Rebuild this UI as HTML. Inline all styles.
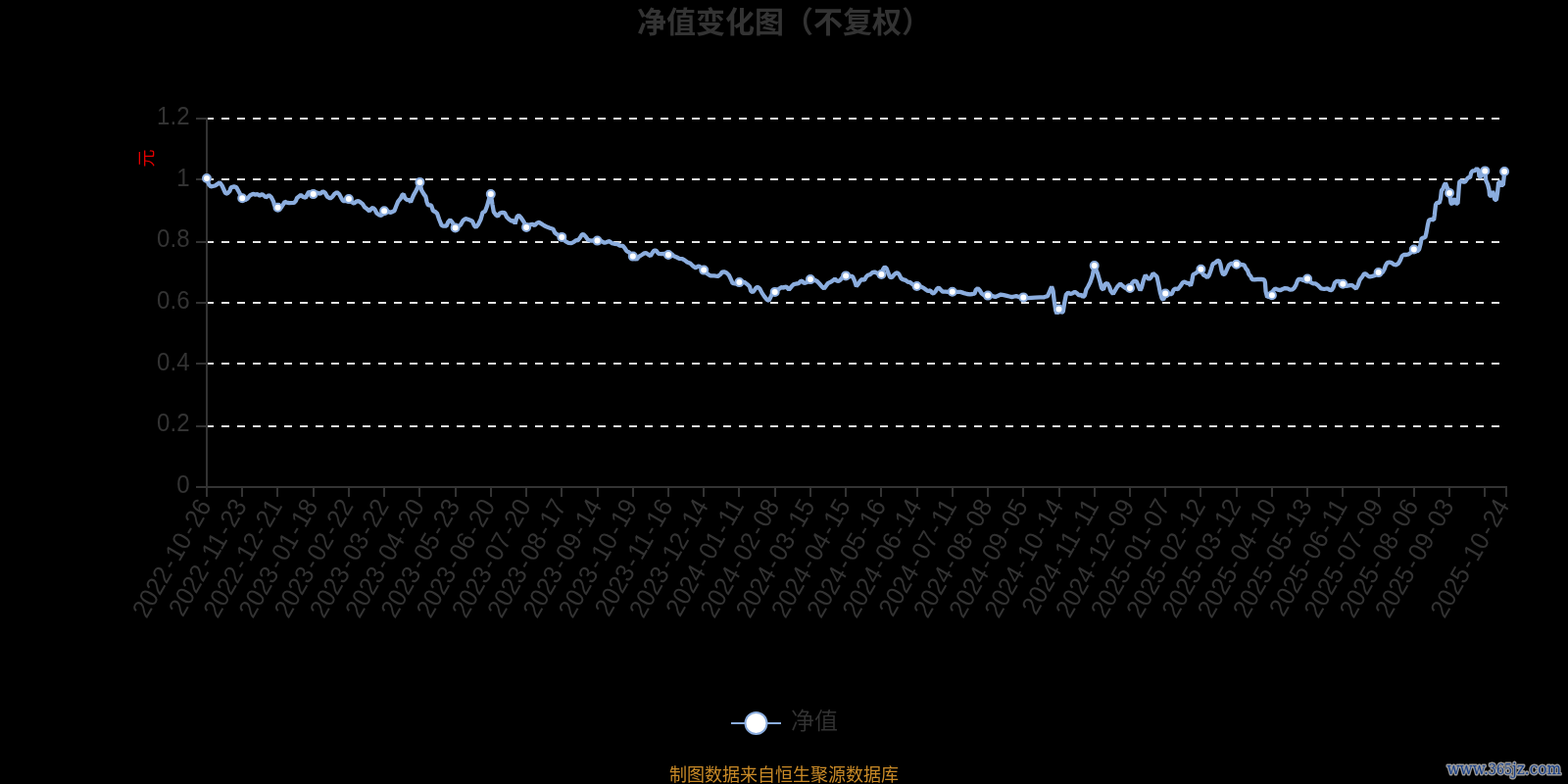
<!DOCTYPE html>
<html lang="zh-CN"><head><meta charset="utf-8"><title>净值变化图（不复权）</title>
<style>
html,body{margin:0;padding:0;background:#000;}
body{width:1600px;height:800px;overflow:hidden;position:relative;font-family:"Liberation Sans","Noto Sans CJK SC",sans-serif;}
svg{position:absolute;left:0;top:0;display:block;}
text{font-family:"Liberation Sans","Noto Sans CJK SC",sans-serif;}
.title{font-size:30px;font-weight:bold;fill:#333;}
.ax{font-size:24px;fill:#333;}
.leg{font-size:24px;fill:#333;font-weight:350;}
.src{font-size:18px;fill:#c98a27;}
.unit{font-size:18px;fill:#e60000;}
.wm{font-family:"DejaVu Serif","Liberation Serif",serif;font-weight:normal;font-size:17.5px;fill:#173f8a;stroke:#9a9a9a;stroke-width:3px;paint-order:stroke fill;stroke-linejoin:round;}
</style></head><body>
<svg width="1600" height="800" viewBox="0 0 1600 800">
<rect x="0" y="0" width="1600" height="800" fill="#000"/>
<text class="title" x="800" y="33" text-anchor="middle">净值变化图（不复权）</text>
<g stroke="#e4e4e4" stroke-width="2" stroke-dasharray="8 8" fill="none">
<path d="M210 121H1537"/>
<path d="M210 183H1537"/>
<path d="M210 247H1537"/>
<path d="M210 309H1537"/>
<path d="M210 371H1537"/>
<path d="M210 435H1537"/>
</g>
<g stroke="#333" stroke-width="2" fill="none">
<path d="M211 120V498"/>
<path d="M210 497H1538"/>
<path d="M200 121H211M200 183H211M200 247H211M200 309H211M200 371H211M200 435H211M200 497H211M211 497V507M247 497V507M283 497V507M320 497V507M356 497V507M392 497V507M428 497V507M465 497V507M501 497V507M537 497V507M573 497V507M610 497V507M646 497V507M682 497V507M718 497V507M754 497V507M791 497V507M827 497V507M863 497V507M899 497V507M936 497V507M972 497V507M1008 497V507M1044 497V507M1081 497V507M1117 497V507M1153 497V507M1189 497V507M1225 497V507M1262 497V507M1298 497V507M1334 497V507M1370 497V507M1407 497V507M1443 497V507M1479 497V507M1515 497V507M1537 497V507"/>
</g>
<g class="ax" text-anchor="end" style="font-size:26.3px">
<text transform="translate(193.5 126.8) scale(0.914 1)">1.2</text>
<text transform="translate(193.5 189.5) scale(0.914 1)">1</text>
<text transform="translate(193.5 252.1) scale(0.914 1)">0.8</text>
<text transform="translate(193.5 314.8) scale(0.914 1)">0.6</text>
<text transform="translate(193.5 377.5) scale(0.914 1)">0.4</text>
<text transform="translate(193.5 440.1) scale(0.914 1)">0.2</text>
<text transform="translate(193.5 502.8) scale(0.914 1)">0</text>
</g>
<text class="unit" transform="translate(156 161.5) rotate(-90)" text-anchor="middle">元</text>
<g class="ax" text-anchor="end" style="font-size:26.3px">
<text transform="translate(209.0 511.7) rotate(-60) scale(0.93 1)" y="8.5">2022<tspan dx="2.4">-</tspan><tspan dx="2.4">10</tspan><tspan dx="2.4">-</tspan><tspan dx="2.4">26</tspan></text>
<text transform="translate(245.2 511.7) rotate(-60) scale(0.93 1)" y="8.5">2022<tspan dx="2.4">-</tspan><tspan dx="2.4">11</tspan><tspan dx="2.4">-</tspan><tspan dx="2.4">23</tspan></text>
<text transform="translate(281.5 511.7) rotate(-60) scale(0.93 1)" y="8.5">2022<tspan dx="2.4">-</tspan><tspan dx="2.4">12</tspan><tspan dx="2.4">-</tspan><tspan dx="2.4">21</tspan></text>
<text transform="translate(317.7 511.7) rotate(-60) scale(0.93 1)" y="8.5">2023<tspan dx="2.4">-</tspan><tspan dx="2.4">01</tspan><tspan dx="2.4">-</tspan><tspan dx="2.4">18</tspan></text>
<text transform="translate(353.9 511.7) rotate(-60) scale(0.93 1)" y="8.5">2023<tspan dx="2.4">-</tspan><tspan dx="2.4">02</tspan><tspan dx="2.4">-</tspan><tspan dx="2.4">22</tspan></text>
<text transform="translate(390.1 511.7) rotate(-60) scale(0.93 1)" y="8.5">2023<tspan dx="2.4">-</tspan><tspan dx="2.4">03</tspan><tspan dx="2.4">-</tspan><tspan dx="2.4">22</tspan></text>
<text transform="translate(426.4 511.7) rotate(-60) scale(0.93 1)" y="8.5">2023<tspan dx="2.4">-</tspan><tspan dx="2.4">04</tspan><tspan dx="2.4">-</tspan><tspan dx="2.4">20</tspan></text>
<text transform="translate(462.6 511.7) rotate(-60) scale(0.93 1)" y="8.5">2023<tspan dx="2.4">-</tspan><tspan dx="2.4">05</tspan><tspan dx="2.4">-</tspan><tspan dx="2.4">23</tspan></text>
<text transform="translate(498.8 511.7) rotate(-60) scale(0.93 1)" y="8.5">2023<tspan dx="2.4">-</tspan><tspan dx="2.4">06</tspan><tspan dx="2.4">-</tspan><tspan dx="2.4">20</tspan></text>
<text transform="translate(535.1 511.7) rotate(-60) scale(0.93 1)" y="8.5">2023<tspan dx="2.4">-</tspan><tspan dx="2.4">07</tspan><tspan dx="2.4">-</tspan><tspan dx="2.4">20</tspan></text>
<text transform="translate(571.3 511.7) rotate(-60) scale(0.93 1)" y="8.5">2023<tspan dx="2.4">-</tspan><tspan dx="2.4">08</tspan><tspan dx="2.4">-</tspan><tspan dx="2.4">17</tspan></text>
<text transform="translate(607.5 511.7) rotate(-60) scale(0.93 1)" y="8.5">2023<tspan dx="2.4">-</tspan><tspan dx="2.4">09</tspan><tspan dx="2.4">-</tspan><tspan dx="2.4">14</tspan></text>
<text transform="translate(643.8 511.7) rotate(-60) scale(0.93 1)" y="8.5">2023<tspan dx="2.4">-</tspan><tspan dx="2.4">10</tspan><tspan dx="2.4">-</tspan><tspan dx="2.4">19</tspan></text>
<text transform="translate(680.0 511.7) rotate(-60) scale(0.93 1)" y="8.5">2023<tspan dx="2.4">-</tspan><tspan dx="2.4">11</tspan><tspan dx="2.4">-</tspan><tspan dx="2.4">16</tspan></text>
<text transform="translate(716.2 511.7) rotate(-60) scale(0.93 1)" y="8.5">2023<tspan dx="2.4">-</tspan><tspan dx="2.4">12</tspan><tspan dx="2.4">-</tspan><tspan dx="2.4">14</tspan></text>
<text transform="translate(752.4 511.7) rotate(-60) scale(0.93 1)" y="8.5">2024<tspan dx="2.4">-</tspan><tspan dx="2.4">01</tspan><tspan dx="2.4">-</tspan><tspan dx="2.4">11</tspan></text>
<text transform="translate(788.7 511.7) rotate(-60) scale(0.93 1)" y="8.5">2024<tspan dx="2.4">-</tspan><tspan dx="2.4">02</tspan><tspan dx="2.4">-</tspan><tspan dx="2.4">08</tspan></text>
<text transform="translate(824.9 511.7) rotate(-60) scale(0.93 1)" y="8.5">2024<tspan dx="2.4">-</tspan><tspan dx="2.4">03</tspan><tspan dx="2.4">-</tspan><tspan dx="2.4">15</tspan></text>
<text transform="translate(861.1 511.7) rotate(-60) scale(0.93 1)" y="8.5">2024<tspan dx="2.4">-</tspan><tspan dx="2.4">04</tspan><tspan dx="2.4">-</tspan><tspan dx="2.4">15</tspan></text>
<text transform="translate(897.4 511.7) rotate(-60) scale(0.93 1)" y="8.5">2024<tspan dx="2.4">-</tspan><tspan dx="2.4">05</tspan><tspan dx="2.4">-</tspan><tspan dx="2.4">16</tspan></text>
<text transform="translate(933.6 511.7) rotate(-60) scale(0.93 1)" y="8.5">2024<tspan dx="2.4">-</tspan><tspan dx="2.4">06</tspan><tspan dx="2.4">-</tspan><tspan dx="2.4">14</tspan></text>
<text transform="translate(969.8 511.7) rotate(-60) scale(0.93 1)" y="8.5">2024<tspan dx="2.4">-</tspan><tspan dx="2.4">07</tspan><tspan dx="2.4">-</tspan><tspan dx="2.4">11</tspan></text>
<text transform="translate(1006.0 511.7) rotate(-60) scale(0.93 1)" y="8.5">2024<tspan dx="2.4">-</tspan><tspan dx="2.4">08</tspan><tspan dx="2.4">-</tspan><tspan dx="2.4">08</tspan></text>
<text transform="translate(1042.3 511.7) rotate(-60) scale(0.93 1)" y="8.5">2024<tspan dx="2.4">-</tspan><tspan dx="2.4">09</tspan><tspan dx="2.4">-</tspan><tspan dx="2.4">05</tspan></text>
<text transform="translate(1078.5 511.7) rotate(-60) scale(0.93 1)" y="8.5">2024<tspan dx="2.4">-</tspan><tspan dx="2.4">10</tspan><tspan dx="2.4">-</tspan><tspan dx="2.4">14</tspan></text>
<text transform="translate(1114.7 511.7) rotate(-60) scale(0.93 1)" y="8.5">2024<tspan dx="2.4">-</tspan><tspan dx="2.4">11</tspan><tspan dx="2.4">-</tspan><tspan dx="2.4">11</tspan></text>
<text transform="translate(1151.0 511.7) rotate(-60) scale(0.93 1)" y="8.5">2024<tspan dx="2.4">-</tspan><tspan dx="2.4">12</tspan><tspan dx="2.4">-</tspan><tspan dx="2.4">09</tspan></text>
<text transform="translate(1187.2 511.7) rotate(-60) scale(0.93 1)" y="8.5">2025<tspan dx="2.4">-</tspan><tspan dx="2.4">01</tspan><tspan dx="2.4">-</tspan><tspan dx="2.4">07</tspan></text>
<text transform="translate(1223.4 511.7) rotate(-60) scale(0.93 1)" y="8.5">2025<tspan dx="2.4">-</tspan><tspan dx="2.4">02</tspan><tspan dx="2.4">-</tspan><tspan dx="2.4">12</tspan></text>
<text transform="translate(1259.7 511.7) rotate(-60) scale(0.93 1)" y="8.5">2025<tspan dx="2.4">-</tspan><tspan dx="2.4">03</tspan><tspan dx="2.4">-</tspan><tspan dx="2.4">12</tspan></text>
<text transform="translate(1295.9 511.7) rotate(-60) scale(0.93 1)" y="8.5">2025<tspan dx="2.4">-</tspan><tspan dx="2.4">04</tspan><tspan dx="2.4">-</tspan><tspan dx="2.4">10</tspan></text>
<text transform="translate(1332.1 511.7) rotate(-60) scale(0.93 1)" y="8.5">2025<tspan dx="2.4">-</tspan><tspan dx="2.4">05</tspan><tspan dx="2.4">-</tspan><tspan dx="2.4">13</tspan></text>
<text transform="translate(1368.3 511.7) rotate(-60) scale(0.93 1)" y="8.5">2025<tspan dx="2.4">-</tspan><tspan dx="2.4">06</tspan><tspan dx="2.4">-</tspan><tspan dx="2.4">11</tspan></text>
<text transform="translate(1404.6 511.7) rotate(-60) scale(0.93 1)" y="8.5">2025<tspan dx="2.4">-</tspan><tspan dx="2.4">07</tspan><tspan dx="2.4">-</tspan><tspan dx="2.4">09</tspan></text>
<text transform="translate(1440.8 511.7) rotate(-60) scale(0.93 1)" y="8.5">2025<tspan dx="2.4">-</tspan><tspan dx="2.4">08</tspan><tspan dx="2.4">-</tspan><tspan dx="2.4">06</tspan></text>
<text transform="translate(1477.0 511.7) rotate(-60) scale(0.93 1)" y="8.5">2025<tspan dx="2.4">-</tspan><tspan dx="2.4">09</tspan><tspan dx="2.4">-</tspan><tspan dx="2.4">03</tspan></text>
<text transform="translate(1533.5 511.7) rotate(-60) scale(0.93 1)" y="8.5">2025<tspan dx="2.4">-</tspan><tspan dx="2.4">10</tspan><tspan dx="2.4">-</tspan><tspan dx="2.4">24</tspan></text>
</g>
<path d="M211.0 182.0L213.1 188.2L215.3 190.4L219.4 189.5L222.2 187.6L224.1 186.1L226.6 189.5L230.0 197.0L231.9 197.6L234.4 195.1L235.6 191.4L238.8 190.4L241.2 191.1L243.8 195.8L247.2 202.3L250.0 204.2L252.5 202.6L255.0 199.5L258.1 197.9L260.6 198.6L262.5 198.2L265.0 199.5L267.5 198.2L270.0 200.1L271.2 201.4L274.4 199.2L276.9 201.4L279.1 205.8L280.0 209.5L283.5 211.7L286.9 211.7L288.8 208.9L290.6 205.8L292.5 206.7L295.0 207.2L300.0 206.9L301.9 205.0L303.1 201.9L306.9 199.1L309.4 200.9L311.9 201.6L313.8 198.1L315.0 195.6L319.7 198.1L323.1 196.4L326.9 197.8L329.4 195.3L331.9 196.9L333.8 200.6L336.9 202.5L339.4 200.6L341.2 198.1L343.8 196.2L346.2 198.1L348.1 201.9L350.0 205.0L352.5 205.0L355.9 203.1L358.8 206.2L361.2 207.5L363.8 205.6L365.6 205.0L368.1 206.6L370.0 208.1L371.9 211.2L374.4 213.1L376.9 215.3L378.8 213.1L380.6 211.9L382.5 213.8L384.4 217.5L386.9 219.4L389.4 220.0L392.1 215.3L395.6 215.9L398.8 216.9L402.5 215.0L404.4 210.0L406.2 205.6L408.8 202.5L410.6 198.8L411.9 198.1L413.1 201.9L415.0 203.8L417.5 204.1L419.1 206.2L420.0 203.8L421.9 199.4L425.0 193.8L428.4 185.9L430.0 193.8L432.5 198.1L434.4 200.6L435.6 206.2L436.9 209.4L439.4 209.4L440.0 209.4L441.9 215.0L444.4 216.2L446.2 218.1L448.1 223.8L450.6 230.0L452.5 230.6L455.6 230.6L457.5 226.2L459.4 224.4L461.6 226.9L464.6 232.5L467.5 231.2L470.0 229.4L472.5 225.0L475.0 223.1L477.5 223.8L480.0 224.7L481.9 225.6L483.8 230.0L485.6 231.9L488.1 228.8L490.6 223.8L492.5 216.9L495.0 215.6L496.9 210.6L498.8 203.8L500.8 198.1L502.5 208.8L503.8 216.2L506.2 219.4L508.1 220.6L510.0 217.5L512.5 216.9L515.0 217.2L516.9 221.2L519.4 223.8L521.9 225.6L524.4 225.0L525.6 228.4L527.5 221.2L529.4 219.7L531.9 222.5L534.4 226.2L537.1 231.9L540.6 229.4L543.1 228.8L545.6 230.0L548.1 227.5L550.0 226.9L552.5 228.4L555.0 230.0L558.1 231.6L561.2 232.8L564.4 233.8L566.2 237.5L568.8 239.4L573.3 241.9L576.9 246.2L580.0 247.8L583.1 248.1L585.6 246.9L587.5 245.3L590.0 245.0L591.9 242.5L593.8 239.4L595.3 239.1L597.5 241.2L600.0 244.7L602.5 245.6L605.6 245.3L609.5 245.6L613.8 246.2L616.9 247.8L618.8 247.2L620.0 246.6L621.9 246.2L624.4 248.1L626.9 248.8L630.0 249.1L632.5 250.6L635.6 250.9L637.5 253.1L639.4 256.2L641.9 257.5L645.8 261.6L649.4 265.0L651.9 261.9L655.0 260.0L657.5 258.4L659.4 258.1L661.9 260.0L663.8 261.2L665.6 258.1L667.5 255.6L669.4 255.6L671.9 258.8L675.0 259.1L678.1 258.8L682.0 260.0L685.6 259.4L687.5 261.2L690.6 262.5L693.1 263.8L696.2 264.1L698.8 265.6L701.2 267.5L704.4 268.8L706.9 271.2L709.4 273.1L710.0 273.2L713.1 271.4L715.6 273.2L718.2 275.6L721.9 279.5L725.0 281.4L728.8 281.4L732.5 282.0L735.0 280.1L736.9 277.6L738.8 277.3L741.2 278.2L743.8 280.8L745.6 284.5L747.5 288.9L750.0 289.5L754.4 288.1L757.5 287.6L760.0 288.2L762.5 290.1L765.0 292.6L766.2 297.0L768.1 298.2L770.0 295.8L771.9 293.2L773.8 293.2L775.6 295.1L777.5 298.9L780.0 302.6L782.5 305.8L784.7 306.7L786.6 302.6L788.1 299.5L790.7 297.9L794.4 295.1L797.5 293.2L799.4 293.6L800.0 293.2L802.5 292.6L805.0 295.8L807.5 292.6L810.0 290.1L812.5 289.5L815.0 289.2L816.9 287.0L818.4 286.7L820.6 288.9L823.1 288.2L826.9 285.1L831.2 285.8L833.8 287.0L836.2 289.5L838.8 292.6L840.9 294.5L843.1 291.4L845.0 288.9L848.1 287.6L850.6 285.8L851.9 284.5L853.8 286.4L855.6 287.0L857.5 285.8L859.4 283.2L863.1 281.4L867.5 282.0L870.0 282.0L871.9 286.4L873.8 292.0L875.6 290.1L877.5 287.0L879.4 285.1L881.9 285.8L883.8 282.6L885.6 280.8L888.1 280.1L890.0 278.2L892.5 277.6L895.6 278.9L899.4 280.0L901.2 274.5L902.8 272.3L904.7 273.9L906.2 278.2L908.1 282.6L910.0 283.2L911.9 280.8L913.8 278.9L915.6 278.2L917.5 280.1L919.4 283.9L921.2 285.1L923.8 285.8L926.2 287.6L928.8 288.2L931.2 290.1L935.6 292.0L940.0 292.6L942.5 293.9L945.0 295.8L946.9 297.0L949.4 296.4L951.2 298.9L952.5 299.5L954.4 297.6L956.2 294.5L957.8 293.6L960.0 295.8L961.9 297.6L965.0 297.6L967.5 297.9L971.8 297.8L976.2 297.9L980.0 297.9L983.8 299.1L986.9 300.0L990.0 300.3L992.5 300.0L994.4 299.7L995.9 295.6L997.8 294.1L999.7 296.2L1001.6 299.4L1003.8 301.2L1008.0 301.6L1012.5 301.9L1015.6 303.1L1018.1 301.9L1021.2 300.6L1024.4 301.2L1027.5 301.9L1030.0 302.5L1032.5 303.1L1035.0 302.5L1036.9 302.2L1039.4 302.8L1044.3 303.4L1048.8 304.1L1052.5 303.8L1056.2 303.6L1061.2 303.4L1065.0 303.4L1066.0 303.0L1069.0 302.2L1071.2 297.0L1073.1 292.5L1074.6 297.0L1075.8 307.5L1077.2 316.5L1078.4 320.2L1080.5 315.4L1083.2 318.8L1084.8 318.0L1086.2 309.0L1087.8 300.8L1090.0 298.5L1092.2 300.0L1094.5 299.2L1096.8 297.8L1099.0 299.2L1101.2 301.5L1103.5 300.8L1105.0 303.0L1106.9 301.5L1108.4 295.5L1110.2 292.5L1112.5 288.0L1114.8 281.2L1116.7 271.1L1120.0 279.0L1122.2 286.5L1124.1 294.0L1126.0 295.5L1127.5 290.2L1129.8 288.8L1132.0 292.5L1133.5 297.0L1135.8 300.0L1138.0 296.2L1140.2 292.5L1143.2 289.5L1145.5 291.8L1148.5 294.0L1153.0 293.9L1155.2 288.8L1157.5 286.5L1159.8 287.2L1161.6 291.8L1163.5 296.2L1165.0 293.2L1166.9 285.8L1168.8 280.8L1170.6 283.2L1172.5 285.1L1174.4 283.2L1176.6 278.9L1178.8 280.8L1180.6 282.6L1182.2 290.1L1183.8 298.2L1185.6 304.5L1187.2 305.8L1189.2 299.5L1193.1 300.1L1195.6 300.1L1197.5 295.8L1199.4 294.5L1201.9 295.1L1204.4 292.0L1206.9 288.2L1208.8 287.6L1211.2 288.9L1213.1 288.9L1215.0 291.4L1216.2 287.0L1217.5 280.1L1220.0 278.9L1225.4 274.8L1228.1 280.8L1230.0 281.4L1231.9 283.2L1233.8 280.8L1235.6 275.8L1237.5 269.5L1240.0 268.2L1241.9 266.4L1243.8 265.8L1245.3 269.5L1246.6 276.4L1248.1 280.1L1250.0 279.5L1251.9 275.1L1253.8 270.8L1256.2 268.9L1261.7 269.7L1266.2 270.0L1269.4 270.3L1271.2 273.8L1273.1 276.2L1274.4 280.0L1276.2 281.9L1277.5 285.0L1280.0 285.3L1283.1 285.0L1287.5 285.0L1290.0 285.3L1290.9 288.1L1291.6 297.5L1293.1 303.1L1297.9 301.2L1299.4 296.2L1301.2 294.4L1303.8 295.6L1306.2 296.2L1308.8 295.0L1311.2 294.1L1313.8 294.4L1316.2 295.6L1318.8 295.3L1320.6 293.8L1322.5 290.6L1323.8 286.9L1325.0 285.0L1328.1 285.0L1330.0 286.2L1334.1 284.6L1337.5 288.1L1340.0 289.4L1342.5 289.4L1345.0 291.2L1348.1 294.4L1351.2 295.0L1354.4 294.4L1356.9 295.9L1358.8 296.2L1360.6 293.1L1361.9 288.8L1363.8 286.9L1366.2 286.9L1370.3 289.7L1373.8 291.9L1377.5 291.2L1380.0 291.2L1381.9 293.1L1383.8 294.4L1385.6 291.2L1387.5 285.6L1390.0 282.5L1391.9 279.4L1393.8 279.4L1395.6 281.2L1397.5 282.5L1400.0 281.9L1402.5 281.2L1406.6 278.1L1410.6 278.1L1412.5 275.0L1413.8 271.2L1415.6 268.1L1417.8 267.5L1420.0 268.1L1422.5 270.0L1424.4 270.3L1426.9 268.8L1428.8 265.6L1430.6 261.2L1432.5 260.0L1435.0 260.0L1437.5 259.4L1440.0 257.5L1442.8 254.5L1446.2 256.4L1448.1 254.5L1449.4 249.5L1450.6 243.2L1452.5 242.6L1454.4 242.0L1455.6 237.0L1456.9 229.5L1458.1 224.5L1460.6 223.9L1463.1 224.5L1463.8 219.5L1465.0 208.8L1466.2 206.9L1468.8 206.9L1470.0 202.5L1470.9 194.4L1472.5 192.5L1473.8 188.8L1475.0 186.9L1476.2 190.0L1479.0 196.9L1480.0 203.8L1480.6 207.5L1481.9 208.1L1483.1 205.0L1484.4 202.5L1485.6 207.5L1487.5 207.5L1488.1 200.0L1488.8 190.0L1489.4 185.0L1491.2 184.7L1493.1 185.6L1495.0 185.6L1496.2 183.8L1498.1 181.2L1500.0 181.2L1501.2 176.2L1502.5 174.4L1505.0 174.1L1506.9 171.9L1508.8 173.8L1509.4 180.0L1511.2 180.6L1512.2 176.2L1515.3 174.4L1516.2 183.8L1518.1 188.1L1519.4 193.1L1520.0 199.4L1521.9 200.0L1523.1 195.0L1524.4 200.0L1525.3 203.8L1526.9 203.8L1528.1 196.2L1529.1 186.2L1531.2 185.6L1531.9 188.8L1533.8 188.8L1534.7 180.6L1535.1 175.0" fill="none" stroke="#8badde" stroke-width="4.3" stroke-linejoin="bevel" stroke-linecap="butt"/>
<g fill="#fff" stroke="#8badde" stroke-width="2">
<circle cx="211.0" cy="182.0" r="4.0"/>
<circle cx="247.2" cy="202.3" r="4.0"/>
<circle cx="283.5" cy="211.7" r="4.0"/>
<circle cx="319.7" cy="198.1" r="4.0"/>
<circle cx="355.9" cy="203.1" r="4.0"/>
<circle cx="392.1" cy="215.3" r="4.0"/>
<circle cx="428.4" cy="185.9" r="4.0"/>
<circle cx="464.6" cy="232.5" r="4.0"/>
<circle cx="500.8" cy="198.1" r="4.0"/>
<circle cx="537.1" cy="231.9" r="4.0"/>
<circle cx="573.3" cy="241.9" r="4.0"/>
<circle cx="609.5" cy="245.6" r="4.0"/>
<circle cx="645.8" cy="261.6" r="4.0"/>
<circle cx="682.0" cy="260.0" r="4.0"/>
<circle cx="718.2" cy="275.6" r="4.0"/>
<circle cx="754.4" cy="288.1" r="4.0"/>
<circle cx="790.7" cy="297.9" r="4.0"/>
<circle cx="826.9" cy="285.1" r="4.0"/>
<circle cx="863.1" cy="281.4" r="4.0"/>
<circle cx="899.4" cy="280.0" r="4.0"/>
<circle cx="935.6" cy="292.0" r="4.0"/>
<circle cx="971.8" cy="297.8" r="4.0"/>
<circle cx="1008.0" cy="301.6" r="4.0"/>
<circle cx="1044.3" cy="303.4" r="4.0"/>
<circle cx="1080.5" cy="315.4" r="4.0"/>
<circle cx="1116.7" cy="271.1" r="4.0"/>
<circle cx="1153.0" cy="293.9" r="4.0"/>
<circle cx="1189.2" cy="299.5" r="4.0"/>
<circle cx="1225.4" cy="274.8" r="4.0"/>
<circle cx="1261.7" cy="269.7" r="4.0"/>
<circle cx="1297.9" cy="301.2" r="4.0"/>
<circle cx="1334.1" cy="284.6" r="4.0"/>
<circle cx="1370.3" cy="289.7" r="4.0"/>
<circle cx="1406.6" cy="278.1" r="4.0"/>
<circle cx="1442.8" cy="254.5" r="4.0"/>
<circle cx="1479.0" cy="196.9" r="4.0"/>
<circle cx="1515.3" cy="174.4" r="4.0"/>
<circle cx="1535.1" cy="175.0" r="4.0"/>
</g>
<path d="M746 738H797" stroke="#8badde" stroke-width="2" fill="none"/>
<circle cx="771.5" cy="738" r="11" fill="#fff" stroke="#8badde" stroke-width="2"/>
<text class="leg" x="807" y="744">净值</text>
<text class="src" x="800" y="796.5" text-anchor="middle">制图数据来自恒生聚源数据库</text>
<text class="wm" x="1476.5" y="790" textLength="116.5" lengthAdjust="spacingAndGlyphs">www.<tspan style="font-size:14.5px">365</tspan>jz.com</text>
</svg>
</body></html>
